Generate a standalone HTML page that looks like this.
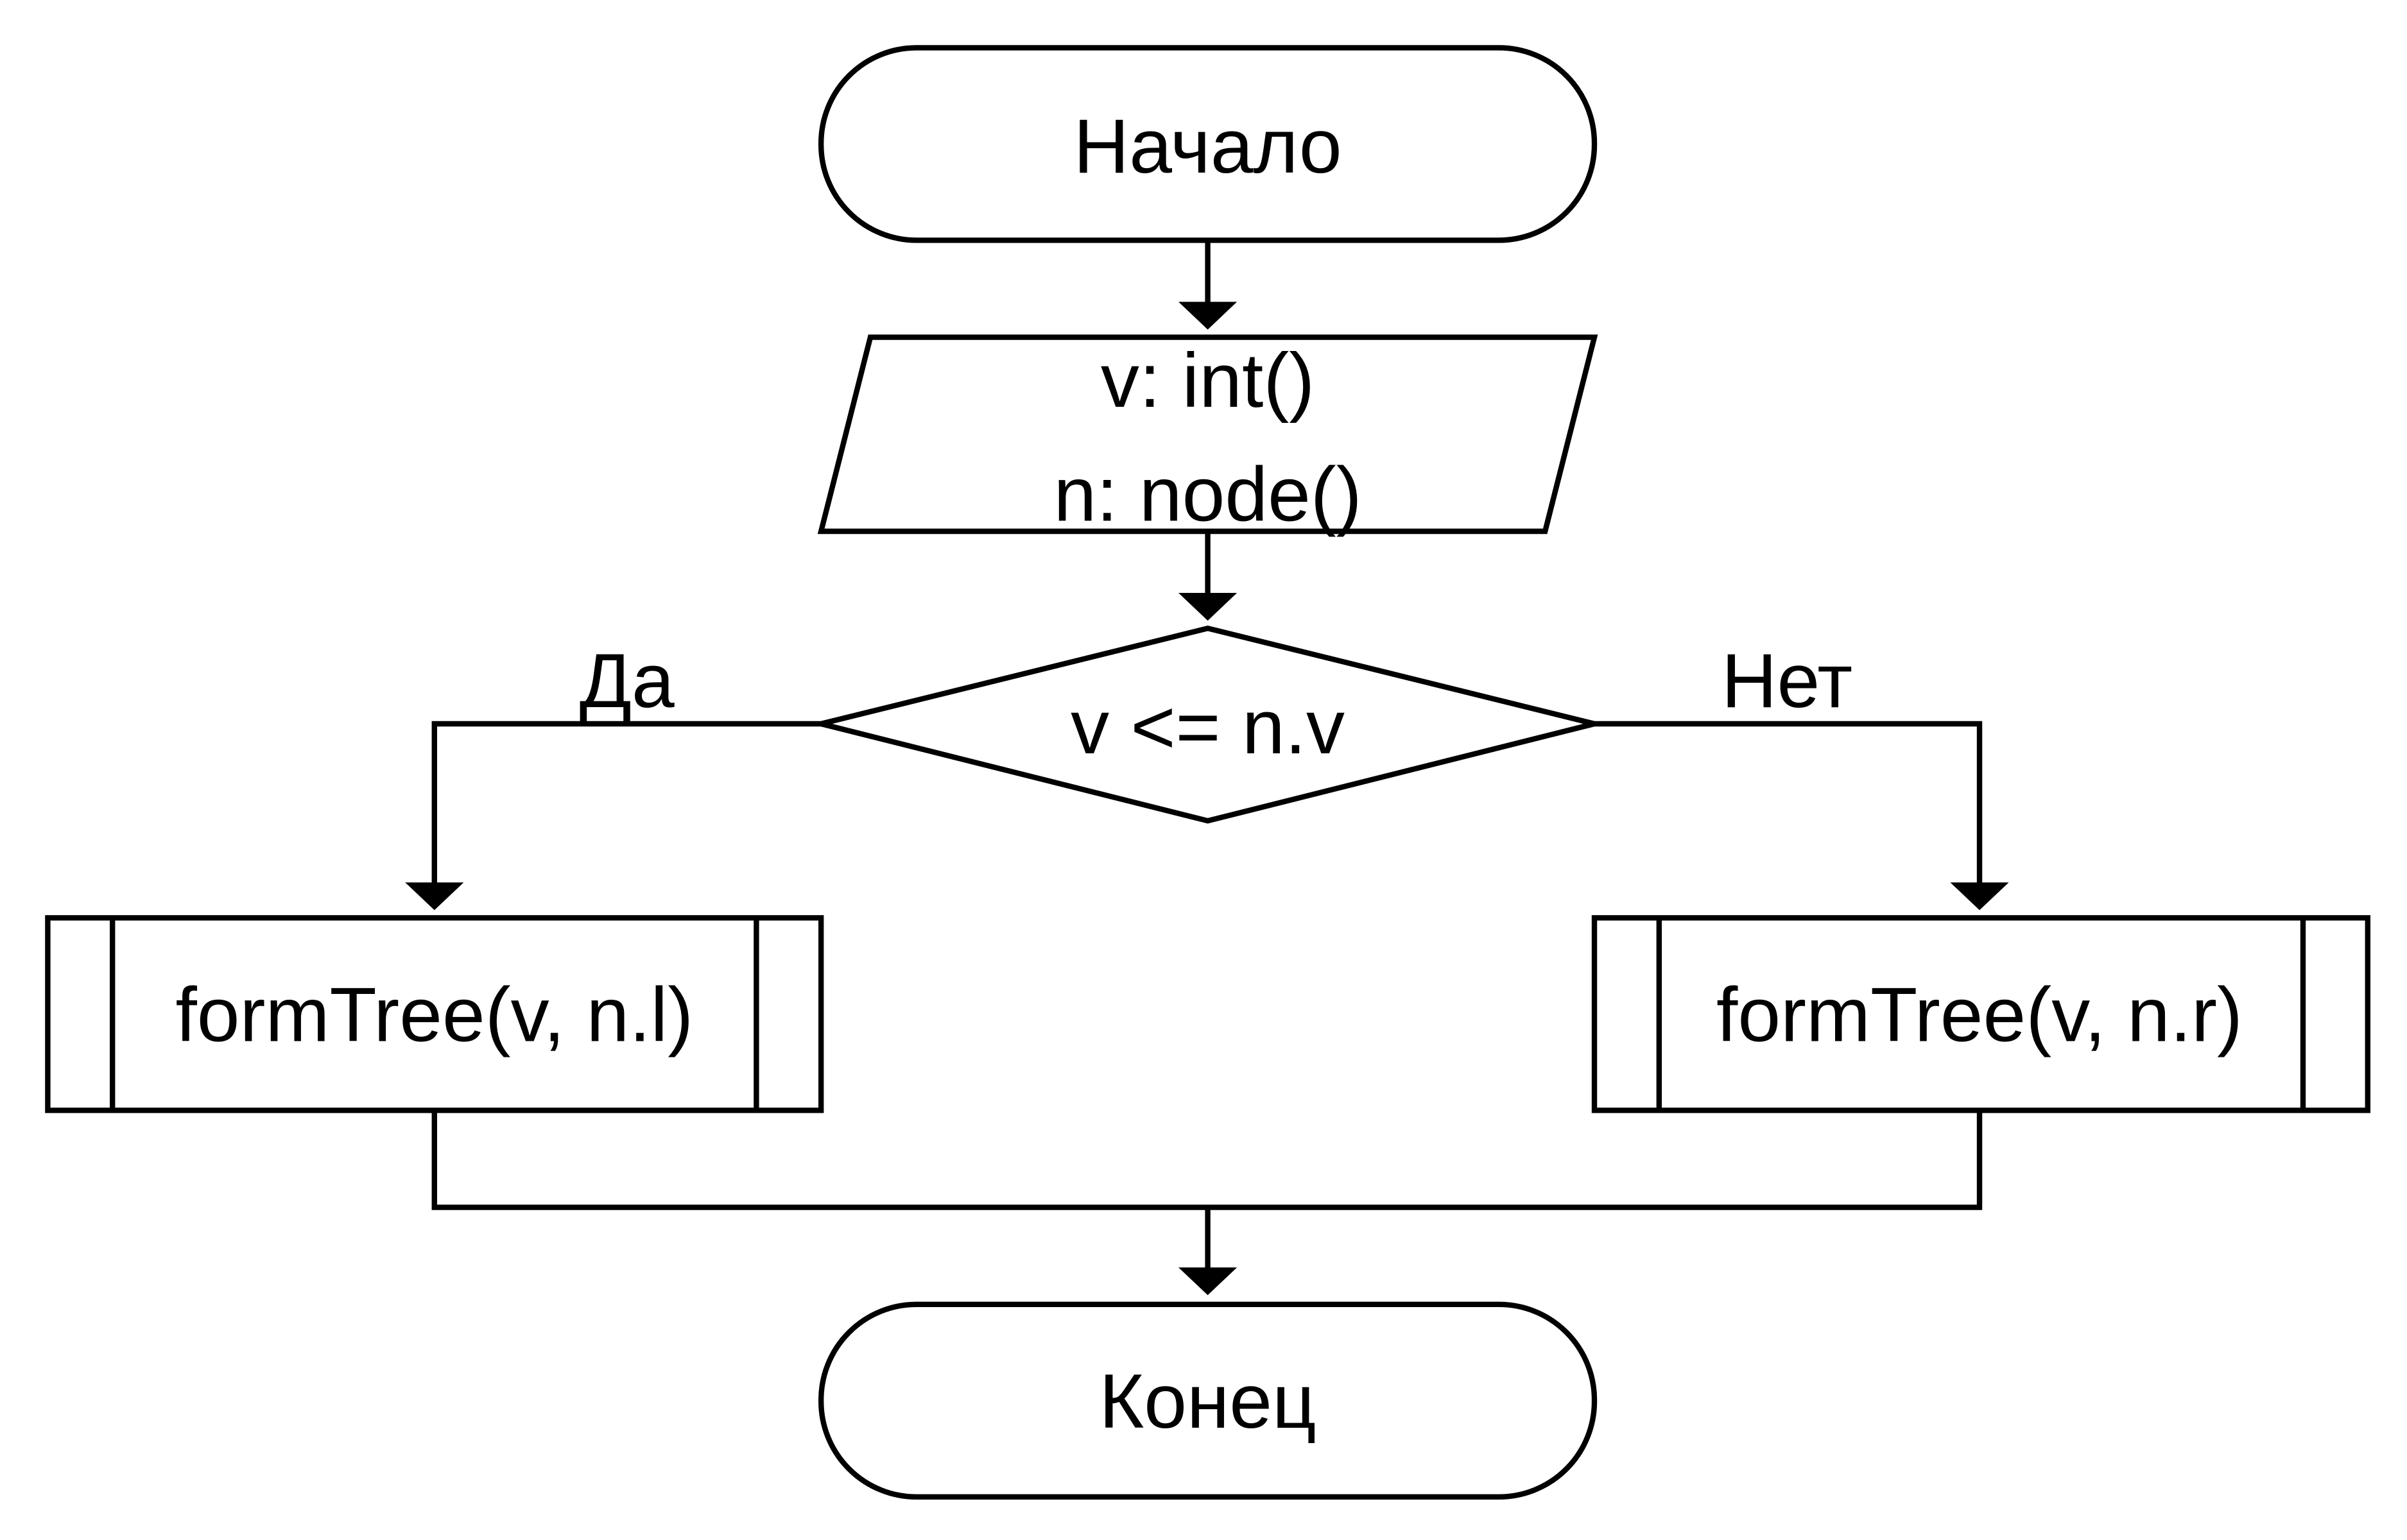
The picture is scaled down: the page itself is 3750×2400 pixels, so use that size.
<!DOCTYPE html>
<html>
<head>
<meta charset="utf-8">
<style>
html,body{margin:0;padding:0;background:#fff;}
svg{display:block;}
text{font-family:"Liberation Sans","DejaVu Sans",sans-serif;font-size:50px;fill:#000;}
</style>
</head>
<body>
<svg width="3750" height="2400" viewBox="0 0 1562.5 1000" xmlns="http://www.w3.org/2000/svg">
<g fill="none" stroke="#000" stroke-width="3.5">
  <rect x="533" y="31" width="502" height="125" rx="62" ry="62" fill="#fff"/>
  <polygon points="565,219 1035,219 1003,345 533,345" fill="#fff"/>
  <polygon points="533,470 784,408 1035,470 784,533" fill="#fff"/>
  <rect x="31" y="596" width="502" height="125" fill="#fff"/>
  <line x1="73" y1="596" x2="73" y2="721"/>
  <line x1="491" y1="596" x2="491" y2="721"/>
  <rect x="1035" y="596" width="502" height="125" fill="#fff"/>
  <line x1="1077" y1="596" x2="1077" y2="721"/>
  <line x1="1495" y1="596" x2="1495" y2="721"/>
  <rect x="533" y="847" width="502" height="125" rx="62" ry="62" fill="#fff"/>
  <line x1="784" y1="156" x2="784" y2="200"/>
  <line x1="784" y1="345" x2="784" y2="388"/>
  <polyline points="533,470 282,470 282,576"/>
  <polyline points="1035,470 1285,470 1285,576"/>
  <polyline points="282,721 282,784 1285,784 1285,721"/>
  <line x1="784" y1="784" x2="784" y2="826"/>
</g>
<g fill="#000">
  <polygon points="765,196 803,196 784,214"/>
  <polygon points="765,385 803,385 784,403"/>
  <polygon points="263,573 301,573 282,591"/>
  <polygon points="1266,573 1304,573 1285,591"/>
  <polygon points="765,823 803,823 784,841"/>
</g>
<g text-anchor="middle" dominant-baseline="central">
  <text x="784" y="95">Начало</text>
  <text x="784" y="247">v: int()</text>
  <text x="784" y="321">n: node()</text>
  <text x="784" y="472">v &lt;= n.v</text>
  <text x="407" y="442">Да</text>
  <text x="1160" y="442">Нет</text>
  <text x="282" y="659">formTree(v, n.l)</text>
  <text x="1285" y="659">formTree(v, n.r)</text>
  <text x="784" y="910">Конец</text>
</g>
</svg>
</body>
</html>
